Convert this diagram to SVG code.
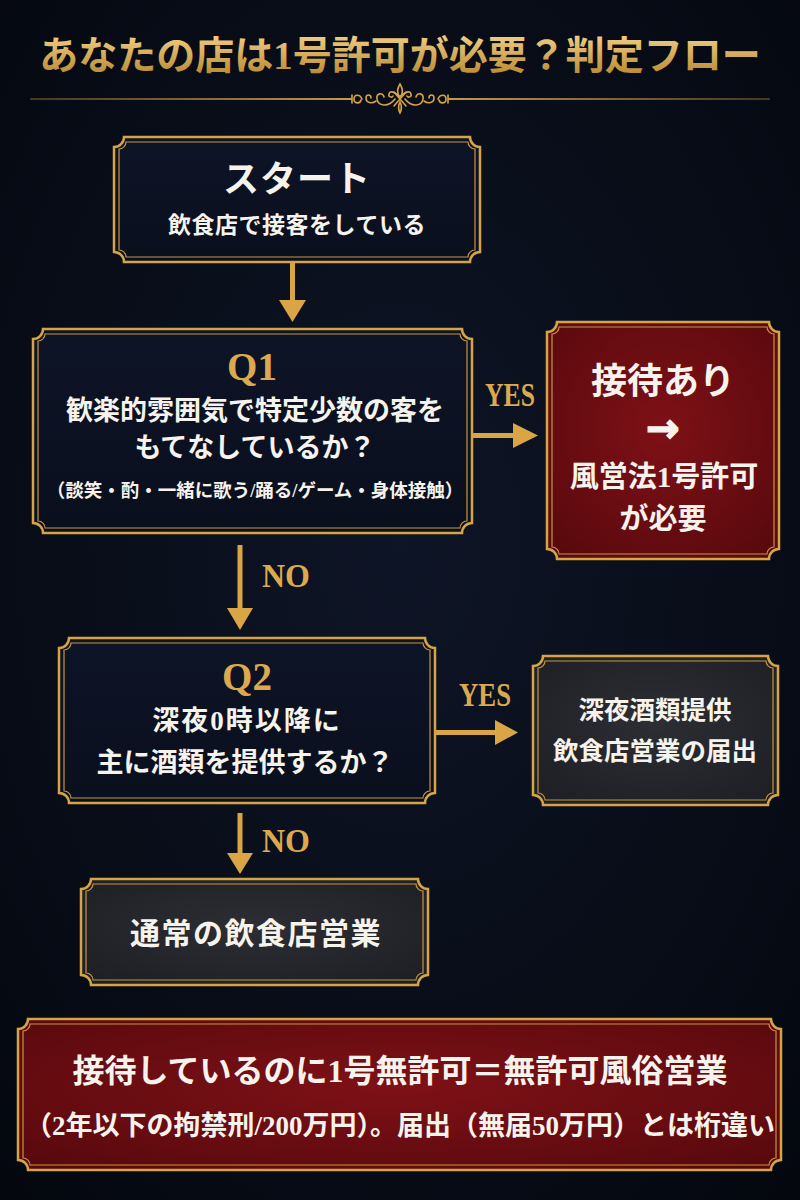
<svg xmlns="http://www.w3.org/2000/svg" width="800" height="1200" viewBox="0 0 800 1200">
  <defs>
    <radialGradient id="bg" cx="50%" cy="45%" r="75%">
      <stop offset="0" stop-color="#0e1526"/>
      <stop offset="1" stop-color="#04070e"/>
    </radialGradient>
    <linearGradient id="navy" x1="0" y1="0" x2="0" y2="1">
      <stop offset="0" stop-color="#0d1426"/>
      <stop offset="1" stop-color="#0a0f1d"/>
    </linearGradient>
    <radialGradient id="red" cx="50%" cy="45%" r="70%">
      <stop offset="0" stop-color="#7e1117"/>
      <stop offset="1" stop-color="#58090d"/>
    </radialGradient>
    <radialGradient id="gray" cx="50%" cy="45%" r="70%">
      <stop offset="0" stop-color="#2c2e33"/>
      <stop offset="1" stop-color="#1d1f24"/>
    </radialGradient>
    <linearGradient id="goldtxt" x1="0" y1="0" x2="0" y2="1">
      <stop offset="0" stop-color="#f0cf84"/>
      <stop offset="1" stop-color="#b8862f"/>
    </linearGradient>
    <linearGradient id="rule" gradientUnits="userSpaceOnUse" x1="30" y1="0" x2="770" y2="0">
      <stop offset="0" stop-color="#b98c45" stop-opacity="0.35"/>
      <stop offset="0.5" stop-color="#d8ab55"/>
      <stop offset="1" stop-color="#b98c45" stop-opacity="0.35"/>
    </linearGradient>
    <style>
      .outer { stroke: #d6a447; stroke-width: 2.5; }
      .inner { fill: none; stroke: #c8963e; stroke-width: 1.2; }
      .navy { fill: url(#navy); }
      .red { fill: url(#red); }
      .gray { fill: url(#gray); }
      .t { font-family: "Liberation Serif", "Noto Sans CJK JP", serif; font-weight: 700; text-anchor: middle; fill: #f6f3ec; }
      .arrow-sym { font-family: "DejaVu Sans", sans-serif; font-weight: 700; font-size: 40px; text-anchor: middle; fill: #f6f3ec; stroke: #f6f3ec; stroke-width: 1.5; }
      .title { font-family: "Liberation Serif", "Noto Sans CJK JP", serif; font-weight: 700; text-anchor: middle; fill: url(#goldtxt); font-size: 39px; }
      .q { font-family: "Liberation Serif", serif; font-weight: 700; text-anchor: middle; fill: #dca94e; font-size: 39px; }
      .lbl { font-family: "Liberation Serif", serif; font-weight: 700; fill: #dca94e; font-size: 34px; }
      .arr { stroke: #d9a545; stroke-width: 5; fill: none; }
      .head { fill: #d9a545; }
      .orn { fill: none; stroke: #d6a447; stroke-width: 1.6; stroke-linecap: round; }
    </style>
  </defs>

  <rect x="0" y="0" width="800" height="1200" fill="url(#bg)"/>

  <!-- Title -->
  <g id="title">
    <text class="title" x="400" y="69">あなたの店は1号許可が必要？判定フロー</text>
    <line x1="30" y1="99" x2="352" y2="99" stroke="url(#rule)" stroke-width="2"/>
    <line x1="448" y1="99" x2="770" y2="99" stroke="url(#rule)" stroke-width="2"/>
    <g id="ornament">
      <path class="orn" fill="#d6a447" d="M400,84 C403,89 404,93 400,97 C396,93 397,89 400,84 Z"/>
      <path class="orn" d="M400,97 C395,92 390,90 389,94 C388,97 392,98 393,96"/>
      <path class="orn" d="M400,97 C405,92 410,90 411,94 C412,97 408,98 407,96"/>
      <path class="orn" d="M394,92 L406,106 M406,92 L394,106"/>
      <path class="orn" fill="#d6a447" d="M400,102 C402,106 402,109 400,113 C398,109 398,106 400,102 Z"/>
      <path class="orn" d="M395,99 C388,108 378,106 377,99 C376,93 383,92 384,97"/>
      <path class="orn" d="M405,99 C412,108 422,106 423,99 C424,93 417,92 416,97"/>
      <path class="orn" d="M376,101 C372,104 366,103 366,98 C366,94 371,94 371,98"/>
      <path class="orn" d="M424,101 C428,104 434,103 434,98 C434,94 429,94 429,98"/>
      <path class="orn" d="M362,99 C360,94 354,94 354,99 C354,104 360,104 361,100 M352,95 L352,103"/>
      <path class="orn" d="M438,99 C440,94 446,94 446,99 C446,104 440,104 439,100 M448,95 L448,103"/>
    </g>
  </g>

  <!-- Connectors -->
  <g id="connectors">
    <line class="arr" x1="292.5" y1="263" x2="292.5" y2="302"/>
    <polygon class="head" points="279,300 306,300 292.5,322"/>

    <line class="arr" x1="473" y1="435.5" x2="515" y2="435.5"/>
    <polygon class="head" points="513,423 513,448 538,435.5"/>
    <text class="lbl" x="510" y="406" text-anchor="middle" textLength="50" lengthAdjust="spacingAndGlyphs">YES</text>

    <line class="arr" x1="240" y1="545" x2="240" y2="610"/>
    <polygon class="head" points="227,608 253,608 240,630"/>
    <text class="lbl" x="262" y="587" textLength="48" lengthAdjust="spacingAndGlyphs">NO</text>

    <line class="arr" x1="436" y1="732.5" x2="497" y2="732.5"/>
    <polygon class="head" points="495,720 495,745 518,732.5"/>
    <text class="lbl" x="485" y="706" text-anchor="middle" textLength="52" lengthAdjust="spacingAndGlyphs">YES</text>

    <line class="arr" x1="240" y1="813" x2="240" y2="855"/>
    <polygon class="head" points="227,853 253,853 240,874"/>
    <text class="lbl" x="262" y="852" textLength="48" lengthAdjust="spacingAndGlyphs">NO</text>
  </g>

  <!-- Start -->
  <g id="start">
    <path class="outer navy" d="M124,137 H470 A10,10 0 0 0 480,147 V252 A10,10 0 0 0 470,262 H124 A10,10 0 0 0 114,252 V147 A10,10 0 0 0 124,137 Z"/>
    <path class="inner" d="M126,142 H468 A7,7 0 0 0 475,149 V250 A7,7 0 0 0 468,257 H126 A7,7 0 0 0 119,250 V149 A7,7 0 0 0 126,142 Z"/>
    <text class="t" x="297" y="192" font-size="36" letter-spacing="1">スタート</text>
    <text class="t" x="297" y="233" font-size="23" letter-spacing="0.5">飲食店で接客をしている</text>
  </g>

  <!-- Q1 -->
  <g id="q1">
    <path class="outer navy" d="M43,329 H462 A10,10 0 0 0 472,339 V523 A10,10 0 0 0 462,533 H43 A10,10 0 0 0 33,523 V339 A10,10 0 0 0 43,329 Z"/>
    <path class="inner" d="M45,334 H460 A7,7 0 0 0 467,341 V521 A7,7 0 0 0 460,528 H45 A7,7 0 0 0 38,521 V341 A7,7 0 0 0 45,334 Z"/>
    <text class="q" x="252" y="380">Q1</text>
    <text class="t" x="255" y="420" font-size="27">歓楽的雰囲気で特定少数の客を</text>
    <text class="t" x="255" y="457" font-size="27">もてなしているか？</text>
    <text class="t" x="255" y="497" font-size="18.5">（談笑・酌・一緒に歌う/踊る/ゲーム・身体接触）</text>
  </g>

  <!-- Result: 1号許可 -->
  <g id="permit">
    <path class="outer red" d="M557,322 H769 A10,10 0 0 0 779,332 V549 A10,10 0 0 0 769,559 H557 A10,10 0 0 0 547,549 V332 A10,10 0 0 0 557,322 Z"/>
    <path class="inner" d="M559,327 H767 A7,7 0 0 0 774,334 V547 A7,7 0 0 0 767,554 H559 A7,7 0 0 0 552,547 V334 A7,7 0 0 0 559,327 Z"/>
    <text class="t" x="663" y="394" font-size="36">接待あり</text>
    <text class="arrow-sym" x="663" y="442">→</text>
    <text class="t" x="664" y="487" font-size="29">風営法1号許可</text>
    <text class="t" x="663" y="529" font-size="29">が必要</text>
  </g>

  <!-- Q2 -->
  <g id="q2">
    <path class="outer navy" d="M69,638 H425 A10,10 0 0 0 435,648 V793 A10,10 0 0 0 425,803 H69 A10,10 0 0 0 59,793 V648 A10,10 0 0 0 69,638 Z"/>
    <path class="inner" d="M71,643 H423 A7,7 0 0 0 430,650 V791 A7,7 0 0 0 423,798 H71 A7,7 0 0 0 64,791 V650 A7,7 0 0 0 71,643 Z"/>
    <text class="q" x="247" y="690">Q2</text>
    <text class="t" x="247" y="730" font-size="27" letter-spacing="2">深夜0時以降に</text>
    <text class="t" x="245" y="772" font-size="27">主に酒類を提供するか？</text>
  </g>

  <!-- Result: 深夜酒類 -->
  <g id="latenight">
    <path class="outer gray" d="M543,656 H768 A10,10 0 0 0 778,666 V795 A10,10 0 0 0 768,805 H543 A10,10 0 0 0 533,795 V666 A10,10 0 0 0 543,656 Z"/>
    <path class="inner" d="M545,661 H766 A7,7 0 0 0 773,668 V793 A7,7 0 0 0 766,800 H545 A7,7 0 0 0 538,793 V668 A7,7 0 0 0 545,661 Z"/>
    <text class="t" x="655" y="719" font-size="25.5">深夜酒類提供</text>
    <text class="t" x="655" y="760" font-size="25.5">飲食店営業の届出</text>
  </g>

  <!-- Result: 通常 -->
  <g id="normal">
    <path class="outer gray" d="M91,879 H418 A10,10 0 0 0 428,889 V975 A10,10 0 0 0 418,985 H91 A10,10 0 0 0 81,975 V889 A10,10 0 0 0 91,879 Z"/>
    <path class="inner" d="M93,884 H416 A7,7 0 0 0 423,891 V973 A7,7 0 0 0 416,980 H93 A7,7 0 0 0 86,973 V891 A7,7 0 0 0 93,884 Z"/>
    <text class="t" x="256" y="944" font-size="30" letter-spacing="1.5">通常の飲食店営業</text>
  </g>

  <!-- Warning -->
  <g id="warning">
    <path class="outer red" d="M28,1019 H771 A10,10 0 0 0 781,1029 V1160 A10,10 0 0 0 771,1170 H28 A10,10 0 0 0 18,1160 V1029 A10,10 0 0 0 28,1019 Z"/>
    <path class="inner" d="M30,1024 H769 A7,7 0 0 0 776,1031 V1158 A7,7 0 0 0 769,1165 H30 A7,7 0 0 0 23,1158 V1031 A7,7 0 0 0 30,1024 Z"/>
    <text class="t" x="400" y="1082" font-size="32">接待しているのに1号無許可＝無許可風俗営業</text>
    <text class="t" x="400" y="1135" font-size="27">（2年以下の拘禁刑/200万円）。届出（無届50万円）とは桁違い</text>
  </g>
</svg>
